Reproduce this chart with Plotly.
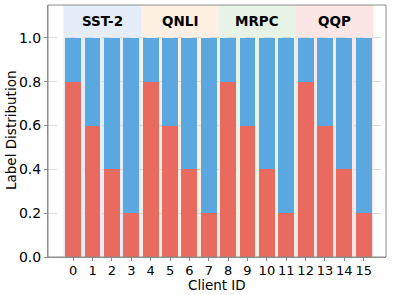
import plotly.graph_objects as go

clients = list(range(16))
label0 = [0.8, 0.6, 0.4, 0.2] * 4
label1 = [round(1 - v, 2) for v in label0]
groups = ["SST-2", "QNLI", "MRPC", "QQP"]
group_colors = ["#E5EEF8", "#FDF0E3", "#E7F3E5", "#FBE5E5"]
y_ticks = [0.0, 0.2, 0.4, 0.6, 0.8, 1.0]

RED = "#E96A5E"
BLUE = "#5AA8DF"
SPINE = "#8C8C8C"

W, H = 394, 295
ML, MR, MT, MB = 48, 8, 5, 38
PW, PH = W - ML - MR, H - MT - MB

fig = go.Figure()
fig.add_trace(go.Bar(x=clients, y=label0, marker=dict(color=RED, line=dict(width=0)),
                     width=0.82, showlegend=False))
fig.add_trace(go.Bar(x=clients, y=label1, marker=dict(color=BLUE, line=dict(width=0)),
                     width=0.82, showlegend=False))

shapes = []
annotations = []
for i, (g, c) in enumerate(zip(groups, group_colors)):
    x0 = i * 4 - 0.5
    x1 = i * 4 + 3.5
    shapes.append(dict(type="rect", xref="x", yref="y", x0=x0, x1=x1, y0=0, y1=1.15,
                       fillcolor=c, line=dict(width=0), layer="below"))
    annotations.append(dict(x=(x0 + x1) / 2, y=1.075, xref="x", yref="y", text="<b>%s</b>" % g,
                            showarrow=False, font=dict(size=13.5, color="black", family="DejaVu Sans")))

annotations.append(dict(x=0.5, y=(257 - 285) / PH, xref="paper", yref="paper", text="Client ID",
                        showarrow=False, xanchor="center", yanchor="middle",
                        font=dict(size=13.5, color="black")))
annotations.append(dict(x=(11 - ML) / PW, y=0.5, xref="paper", yref="paper", text="Label Distribution",
                        showarrow=False, textangle=-90, xanchor="center", yanchor="middle",
                        font=dict(size=13.5, color="black")))

# frame
shapes.append(dict(type="rect", xref="paper", yref="paper", x0=0, x1=1, y0=0, y1=1,
                   line=dict(color=SPINE, width=1), layer="above"))

fig.update_layout(
    barmode="stack",
    bargap=0,
    width=W, height=H,
    margin=dict(l=ML, r=MR, t=MT, b=MB),
    plot_bgcolor="white", paper_bgcolor="white",
    shapes=shapes, annotations=annotations,
    font=dict(family="DejaVu Sans", size=13, color="black"),
    xaxis=dict(range=[-1.3, 16.15], tickmode="array", tickvals=clients,
               ticktext=[str(c) for c in clients], showgrid=False, zeroline=False,
               showline=True, linecolor=SPINE, linewidth=1, ticks="outside", ticklen=3,
               tickcolor=SPINE, automargin=False, tickfont=dict(size=13),
               ticklabelstandoff=-2),
    yaxis=dict(range=[0, 1.15], tickmode="array", tickvals=y_ticks,
               ticktext=["%.1f" % v for v in y_ticks], showgrid=True, gridcolor="#D9D9D9",
               griddash="dash", gridwidth=1, zeroline=False, showline=True, linecolor=SPINE,
               linewidth=1, ticks="outside", ticklen=3, tickcolor=SPINE, automargin=False,
               tickfont=dict(size=14)),
)

fig.write_html("out.html", config={"displayModeBar": False},
               post_script="document.body.style.margin='0';document.body.style.overflow='hidden';")
